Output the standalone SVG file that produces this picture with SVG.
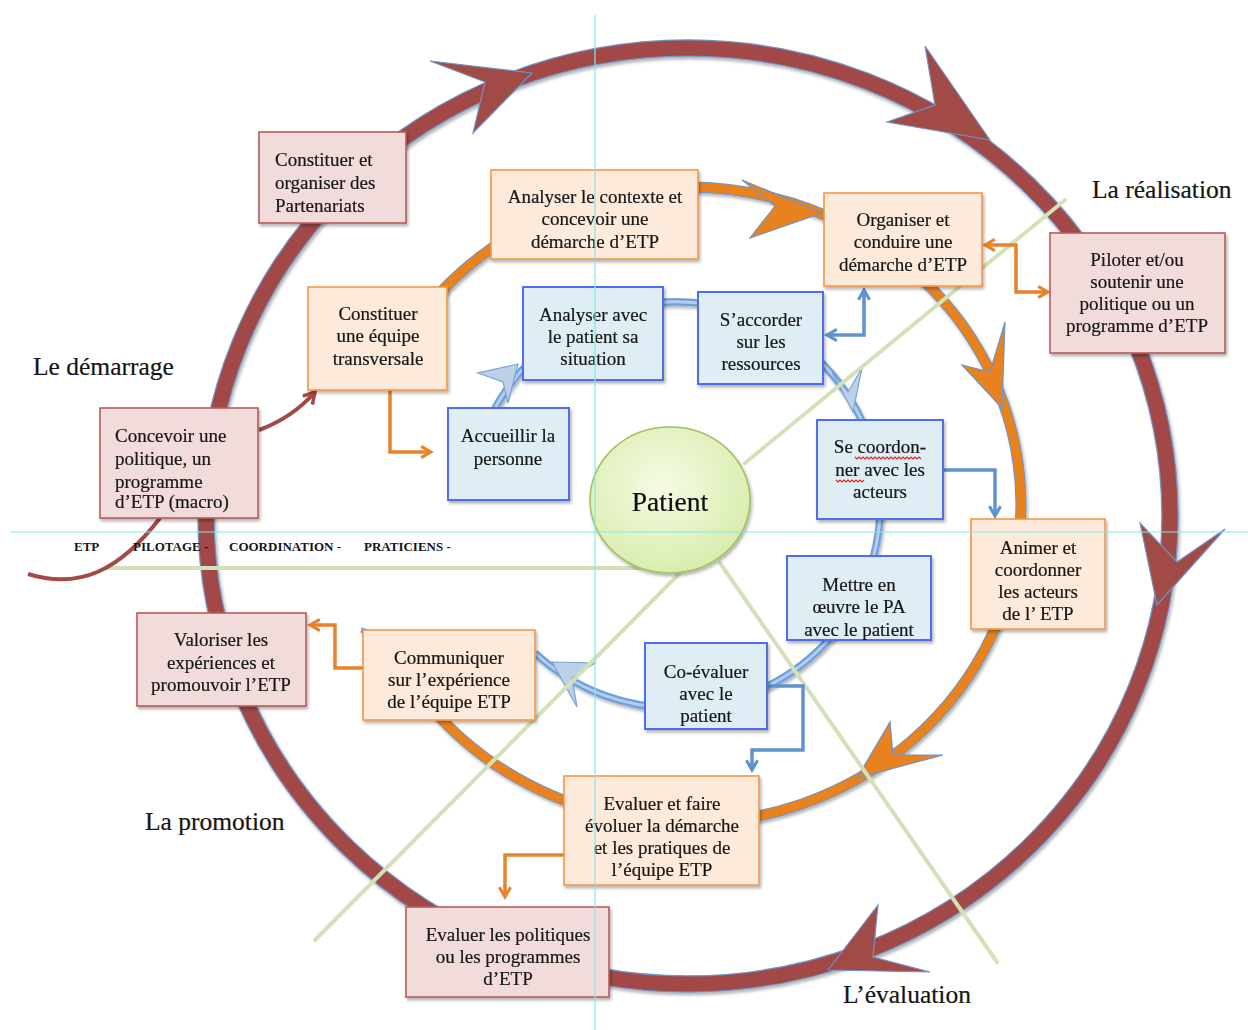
<svg xmlns="http://www.w3.org/2000/svg" width="1248" height="1030" viewBox="0 0 1248 1030">
<style>
.bt{font-family:"Liberation Serif","Times New Roman",serif;font-size:19px;fill:#151515;stroke:#151515;stroke-width:0.2}
.c{text-anchor:middle}
.lbl{font-family:"Liberation Serif","Times New Roman",serif;font-size:25.5px;fill:#151515;stroke:#151515;stroke-width:0.2}
.cap{font-family:"Liberation Serif","Times New Roman",serif;font-size:13px;font-weight:bold;fill:#151515}
.pink{fill:#f2dcdb;stroke:#b85c58;stroke-width:1.6}
.org{fill:#fdeada;stroke:#f79646;stroke-width:1.6}
.blu{fill:#dfeef4;stroke:#4f6cf3;stroke-width:2}
.green{stroke:#d3e1b8;stroke-width:4;fill:none;stroke-linecap:round}
.guide{stroke:#7fe9ea;stroke-width:1.2;fill:none}
.oc{stroke:#e9832a;stroke-width:3.5;fill:none}
.bc{stroke:#5f93cd;stroke-width:3.5;fill:none}
.mh{fill:#a24a46;stroke:#6f93c8;stroke-width:1.2}
.oh{fill:#e8821e;stroke:#6f93c8;stroke-width:1.2}
.bh{fill:#bcd0e8;stroke:#7aa4d6;stroke-width:1.2}
</style>
<defs>
<filter id="sh" x="-10%" y="-10%" width="120%" height="120%">
<feDropShadow dx="1.5" dy="2.5" stdDeviation="1.8" flood-color="#000" flood-opacity="0.3"/>
</filter>
<radialGradient id="pg" cx="0.45" cy="0.4" r="0.6">
<stop offset="0" stop-color="#f6fbe4"/>
<stop offset="1" stop-color="#d9edae"/>
</radialGradient>
<marker id="ma" viewBox="0 0 10 10" refX="8" refY="5" markerWidth="14" markerHeight="14" markerUnits="userSpaceOnUse" orient="auto-start-reverse">
<path d="M1,1 L8,5 L1,9" fill="none" stroke="#e9832a" stroke-width="2.2"/>
</marker>
<marker id="mb" viewBox="0 0 10 10" refX="8" refY="5" markerWidth="14" markerHeight="14" markerUnits="userSpaceOnUse" orient="auto-start-reverse">
<path d="M1,1 L8,5 L1,9" fill="none" stroke="#5f93cd" stroke-width="2.2"/>
</marker>
<marker id="mm" viewBox="0 0 10 10" refX="8" refY="5" markerWidth="16" markerHeight="16" markerUnits="userSpaceOnUse" orient="auto-start-reverse">
<path d="M1,1 L8,5 L1,9" fill="none" stroke="#a24a46" stroke-width="2.2"/>
</marker>
</defs>
<rect width="1248" height="1030" fill="#ffffff"/>

<g id="rings" filter="url(#sh)">
<ellipse cx="688" cy="516" rx="482" ry="468" fill="none" stroke="#6f93c8" stroke-width="17.5"/>
<ellipse cx="688" cy="516" rx="482" ry="468" fill="none" stroke="#a24a46" stroke-width="15"/>
<path d="M415,323 A333,318 0 1,1 420,694" fill="none" stroke="#6f93c8" stroke-width="11"/>
<path d="M415,323 A333,318 0 1,1 420,694" fill="none" stroke="#e8821e" stroke-width="9"/>
<path d="M494,410 A205,203 0 1,1 535,653" fill="none" stroke="#6fa0db" stroke-width="7.5"/>
<path d="M494,410 A205,203 0 1,1 535,653" fill="none" stroke="#b3cdef" stroke-width="3"/>
<path d="M470,662 Q410,645 361,630" fill="none" stroke="#6fa0db" stroke-width="5"/>
</g>

<g id="connectors">
<polygon class="mh" points="532,73 430,61 485,82 473,133"/>
<polygon class="mh" points="990,140 925,46 935,105 887,122"/>
<polygon class="mh" points="1157,605 1140,523 1177,562 1225,529"/>
<polygon class="mh" points="828,970 878,905 873,957 930,972"/>
<polygon class="oh" points="822,213 742,180 775,206 750,238"/>
<polygon class="oh" points="1002,408 962,365 990,372 1005,322"/>
<polygon class="oh" points="857,778 890,722 893,755 943,755"/>
<polygon class="bh" points="518,364 478,373 503,382 508,403"/>
<polygon class="bh" points="853,412 832,372 848,392 862,368"/>
<polygon class="bh" points="552,662 595,663 572,678 577,707"/>

<line class="green" x1="108" y1="568" x2="640" y2="568"/>
<line class="green" x1="745" y1="463" x2="1065" y2="200"/>
<line class="green" x1="680" y1="573" x2="315" y2="940"/>
<line class="green" x1="720" y1="563" x2="997" y2="962"/>

<path d="M160,518 C120,570 80,590 28,574" fill="none" stroke="#a24a46" stroke-width="4"/>
<path d="M259,430 Q292,418 315,392" fill="none" stroke="#a24a46" stroke-width="4" marker-end="url(#mm)"/>

<path class="oc" d="M390,390 V452 H431" marker-end="url(#ma)"/>
<path class="oc" d="M985,245 H1016 V292 H1048" marker-start="url(#ma)" marker-end="url(#ma)"/>
<path class="oc" d="M363,668 H335 V625 H310" marker-end="url(#ma)"/>
<path class="oc" d="M565,855 H505 V897" marker-end="url(#ma)"/>

<path class="bc" d="M827,335 H864 V290" marker-start="url(#mb)" marker-end="url(#mb)"/>
<path class="bc" d="M943,470 H995 V516" marker-end="url(#mb)"/>
<path class="bc" d="M767,686 H803 V750 H752 V770" marker-end="url(#mb)"/>
</g>

<g id="n-partenariats" filter="url(#sh)">
<rect class="pink" x="259" y="132" width="147" height="91"/>
<text class="bt" x="275" y="166">Constituer et</text>
<text class="bt" x="275" y="189">organiser des</text>
<text class="bt" x="275" y="212">Partenariats</text>
</g>
<g id="n-concevoir" filter="url(#sh)">
<rect class="pink" x="100" y="408" width="158" height="110"/>
<text class="bt" x="115" y="442">Concevoir une</text>
<text class="bt" x="115" y="465">politique, un</text>
<text class="bt" x="115" y="488">programme</text>
<text class="bt" x="115" y="508">d’ETP (macro)</text>
</g>
<g id="n-piloter" filter="url(#sh)">
<rect class="pink" x="1050" y="233" width="175" height="120"/>
<text class="bt c" x="1137" y="266">Piloter et/ou</text>
<text class="bt c" x="1137" y="288">soutenir  une</text>
<text class="bt c" x="1137" y="310">politique ou un</text>
<text class="bt c" x="1137" y="332">programme d’ETP</text>
</g>
<g id="n-valoriser" filter="url(#sh)">
<rect class="pink" x="137" y="613" width="169" height="93"/>
<text class="bt c" x="221" y="646">Valoriser les</text>
<text class="bt c" x="221" y="669">expériences et</text>
<text class="bt c" x="221" y="691">promouvoir l’ETP</text>
</g>
<g id="n-evalpol" filter="url(#sh)">
<rect class="pink" x="406" y="907" width="203" height="90"/>
<text class="bt c" x="508" y="941">Evaluer les politiques</text>
<text class="bt c" x="508" y="963">ou les  programmes</text>
<text class="bt c" x="508" y="985">d’ETP</text>
</g>

<g id="n-analyser-ctx" filter="url(#sh)">
<rect class="org" x="491" y="170" width="207" height="89"/>
<text class="bt c" x="595" y="203">Analyser le contexte et</text>
<text class="bt c" x="595" y="225">concevoir une</text>
<text class="bt c" x="595" y="248">démarche d’ETP</text>
</g>
<g id="n-organiser" filter="url(#sh)">
<rect class="org" x="824" y="193" width="158" height="93"/>
<text class="bt c" x="903" y="226">Organiser et</text>
<text class="bt c" x="903" y="248">conduire une</text>
<text class="bt c" x="903" y="271">démarche d’ETP</text>
</g>
<g id="n-equipe" filter="url(#sh)">
<rect class="org" x="308" y="287" width="139" height="103"/>
<text class="bt c" x="378" y="320">Constituer</text>
<text class="bt c" x="378" y="342">une équipe</text>
<text class="bt c" x="378" y="365">transversale</text>
</g>
<g id="n-animer" filter="url(#sh)">
<rect class="org" x="971" y="519" width="134" height="110"/>
<text class="bt c" x="1038" y="554">Animer et</text>
<text class="bt c" x="1038" y="576">coordonner</text>
<text class="bt c" x="1038" y="598">les acteurs</text>
<text class="bt c" x="1038" y="620">de l’ ETP</text>
</g>
<g id="n-communiquer" filter="url(#sh)">
<rect class="org" x="363" y="630" width="172" height="90"/>
<text class="bt c" x="449" y="664">Communiquer</text>
<text class="bt c" x="449" y="686">sur l’expérience</text>
<text class="bt c" x="449" y="708">de l’équipe ETP</text>
</g>
<g id="n-evaluer" filter="url(#sh)">
<rect class="org" x="564" y="776" width="195" height="109"/>
<text class="bt c" x="662" y="810">Evaluer et  faire</text>
<text class="bt c" x="662" y="832">évoluer la démarche</text>
<text class="bt c" x="662" y="854">et les pratiques de</text>
<text class="bt c" x="662" y="876">l’équipe ETP</text>
</g>

<g id="n-analyser-pat" filter="url(#sh)">
<rect class="blu" x="523" y="287" width="140" height="93"/>
<text class="bt c" x="593" y="321">Analyser avec</text>
<text class="bt c" x="593" y="343">le patient sa</text>
<text class="bt c" x="593" y="365">situation</text>
</g>
<g id="n-accorder" filter="url(#sh)">
<rect class="blu" x="698" y="292" width="125" height="92"/>
<text class="bt c" x="761" y="326">S’accorder</text>
<text class="bt c" x="761" y="348">sur les</text>
<text class="bt c" x="761" y="370">ressources</text>
</g>
<g id="n-accueillir" filter="url(#sh)">
<rect class="blu" x="448" y="408" width="121" height="92"/>
<text class="bt c" x="508" y="442">Accueillir la</text>
<text class="bt c" x="508" y="465">personne</text>
</g>
<g id="n-coordonner" filter="url(#sh)">
<rect class="blu" x="817" y="420" width="126" height="99"/>
<text class="bt c" x="880" y="453">Se coordon-</text>
<text class="bt c" x="880" y="476">ner avec les</text>
<text class="bt c" x="880" y="498">acteurs</text>
<path d="M855,457 l2,2 l2,-2 l2,2 l2,-2 l2,2 l2,-2 l2,2 l2,-2 l2,2 l2,-2 l2,2 l2,-2 l2,2 l2,-2 l2,2 l2,-2 l2,2 l2,-2 l2,2 l2,-2 l2,2 l2,-2 l2,2 l2,-2 l2,2 l2,-2 l2,2 l2,-2 l2,2 l2,-2 l2,2 l2,-2 l2,2" fill="none" stroke="#e02020" stroke-width="1.1"/>
<path d="M836,480 l2,2 l2,-2 l2,2 l2,-2 l2,2 l2,-2 l2,2 l2,-2 l2,2 l2,-2 l2,2 l2,-2 l2,2 l2,-2" fill="none" stroke="#e02020" stroke-width="1.1"/>
</g>
<g id="n-mettre" filter="url(#sh)">
<rect class="blu" x="787" y="556" width="144" height="84"/>
<text class="bt c" x="859" y="591">Mettre en</text>
<text class="bt c" x="859" y="613">œuvre le PA</text>
<text class="bt c" x="859" y="636">avec le patient</text>
</g>
<g id="n-coevaluer" filter="url(#sh)">
<rect class="blu" x="645" y="643" width="122" height="86"/>
<text class="bt c" x="706" y="678">Co-évaluer</text>
<text class="bt c" x="706" y="700">avec le</text>
<text class="bt c" x="706" y="722">patient</text>
</g>

<g id="n-patient" filter="url(#sh)">
<ellipse cx="670" cy="500" rx="80" ry="73" fill="url(#pg)" stroke="#a3c162" stroke-width="1.6"/>
<text x="670" y="511" text-anchor="middle" font-family="Liberation Serif, serif" font-size="27.5" fill="#111" stroke="#111" stroke-width="0.2">Patient</text>
</g>

<g id="labels">
<text class="lbl" x="1092" y="198">La réalisation</text>
<text class="lbl" x="33" y="375">Le démarrage</text>
<text class="lbl" x="145" y="830">La promotion</text>
<text class="lbl" x="843" y="1003">L’évaluation</text>
<text class="cap" x="74" y="551">ETP</text>
<text class="cap" x="133" y="551">PILOTAGE -</text>
<text class="cap" x="229" y="551">COORDINATION -</text>
<text class="cap" x="364" y="551">PRATICIENS -</text>
</g>

<g id="guides">
<line class="guide" x1="595" y1="15" x2="595" y2="1030"/>
<line class="guide" x1="10" y1="532" x2="1248" y2="532"/>
</g>
</svg>
